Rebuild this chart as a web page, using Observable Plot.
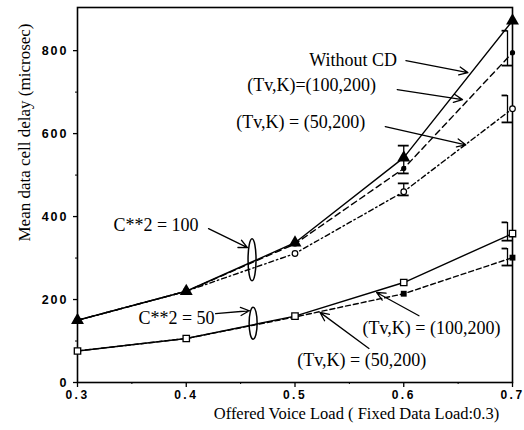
<!DOCTYPE html>
<html>
<head>
<meta charset="utf-8">
<script src="https://cdn.jsdelivr.net/npm/d3@7"></script>
<script src="https://cdn.jsdelivr.net/npm/@observablehq/plot@0.6"></script>
<style>
  html, body { margin: 0; padding: 0; background: #fff; }
  #chart svg { display: block; background: #fff; }
  #chart g[aria-label="y-axis tick label"] text { letter-spacing: 2px; }
  #chart g[aria-label="x-axis tick label"] text { letter-spacing: 2.5px; }
</style>
</head>
<body>
<div id="chart"></div>
<script>
// ---- data ----
const loads = [0.3, 0.4, 0.5, 0.6, 0.7];
// C**2 = 100 group
const c100NoCD  = [150, 220, 337, 542, 872];
const c100Tv100 = [150, 220, 334, 516, 795];
const c100Tv50  = [150, 220, 311, 460, 660];
// C**2 = 50 group
const c50Tv100  = [76, 106, 160, 241, 359];
const c50Tv50   = [76, 106, 158, 214, 301];

// confidence intervals
const errX  = [0.6, 0.6, 0.7, 0.7, 0.7, 0.7];
const errLo = [504, 451, 764, 627, 342, 282];
const errHi = [571, 480, 848, 692, 386, 323];

// ticks
const xTicks = [0.3, 0.4, 0.5, 0.6, 0.7];
const xMinor = [0.35, 0.45, 0.55, 0.65];
const yTicks = [0, 200, 400, 600, 800];
const yMinor = [100, 300, 500, 700];

// annotations
const noteText = ["Without CD", "(Tv,K)=(100,200)", "(Tv,K) = (50,200)", "C**2 = 100", "C**2 = 50", "(Tv,K) = (100,200)", "(Tv,K) = (50,200)"];
const noteX = [0.513, 0.456, 0.446, 0.333, 0.356, 0.562, 0.502];
const noteY = [776, 716, 627, 378, 154, 130, 53];

const arrowX1 = [0.602, 0.594, 0.583, 0.4205, 0.427, 0.614, 0.568];
const arrowY1 = [776, 706, 617, 371, 166, 161, 82];
const arrowX2 = [0.659, 0.654, 0.657, 0.4563, 0.458, 0.575, 0.523];
const arrowY2 = [747, 682, 573, 325, 173, 217, 169];

const ellX = [0.4605, 0.4615];
const ellY = [296, 143];
const ellR = [21, 16];

const xLabel = "Offered Voice Load ( Fixed Data Load:0.3)";
const yLabel = "Mean data cell delay (microsec)";

// ---- build tables ----
const series = (vals) => loads.map((x, i) => ({x, y: vals[i]}));
const errs = errX.map((x, i) => ({x, lo: errLo[i], hi: errHi[i]}));
const errsIn = errs.filter(d => d.x < 0.7);
const errsEdge = errs.filter(d => d.x >= 0.7);
const notes = noteText.map((t, i) => ({t, x: noteX[i], y: noteY[i]}));
const arrows = arrowX1.map((x1, i) => ({x1, y1: arrowY1[i], x2: arrowX2[i], y2: arrowY2[i]}));
const ells = ellX.map((x, i) => ({x, y: ellY[i], r: ellR[i]}));

const ellipse = {
  draw(ctx, size) {
    const ry = Math.sqrt(size / Math.PI), rx = 4, k = 0.5523;
    ctx.moveTo(rx, 0);
    ctx.bezierCurveTo(rx, ry * k, rx * k, ry, 0, ry);
    ctx.bezierCurveTo(-rx * k, ry, -rx, ry * k, -rx, 0);
    ctx.bezierCurveTo(-rx, -ry * k, -rx * k, -ry, 0, -ry);
    ctx.bezierCurveTo(rx * k, -ry, rx, -ry * k, rx, 0);
    ctx.closePath();
  }
};

const capW = 0.005;
const serif = "'Liberation Serif', 'DejaVu Serif', serif";
const sans = "'Liberation Sans', Arial, sans-serif";
const lw = 1.4;

const chart = Plot.plot({
  width: 524,
  height: 430,
  marginLeft: 77,
  marginRight: 12,
  marginTop: 7,
  marginBottom: 48,
  style: {fontFamily: sans, fontSize: "12px", color: "#000", background: "#fff"},
  x: {domain: [0.3, 0.7]},
  y: {domain: [0, 904]},
  r: {type: "identity"},
  marks: [
    Plot.axisX(xTicks, {tickSize: 5, tickPadding: 3, tickFormat: d3.format(".1f"), label: null, fontWeight: "bold", fontSize: 12, strokeWidth: 1.3}),
    Plot.axisX(xMinor, {tickSize: 2, tickFormat: () => "", label: null}),
    Plot.axisY(yTicks, {tickSize: 4, tickPadding: 5, label: null, fontWeight: "bold", fontSize: 12.5, strokeWidth: 1.3}),
    Plot.axisY(yMinor, {tickSize: 2, tickFormat: () => "", label: null}),
    Plot.frame({stroke: "#000", strokeWidth: 1.6}),

    // lines
    Plot.line(series(c100Tv50), {x: "x", y: "y", stroke: "#000", strokeWidth: lw, strokeDasharray: "5,3,1.5,3"}),
    Plot.line(series(c100Tv100), {x: "x", y: "y", stroke: "#000", strokeWidth: lw, strokeDasharray: "6,4"}),
    Plot.line(series(c100NoCD), {x: "x", y: "y", stroke: "#000", strokeWidth: lw}),
    Plot.line(series(c50Tv50), {x: "x", y: "y", stroke: "#000", strokeWidth: lw, strokeDasharray: "5,3"}),
    Plot.line(series(c50Tv100), {x: "x", y: "y", stroke: "#000", strokeWidth: lw}),

    // error bars
    Plot.ruleX(errsIn, {x: "x", y1: "lo", y2: "hi", stroke: "#000", strokeWidth: 1.3}),
    Plot.ruleY(errsIn, {y: "lo", x1: d => d.x - capW, x2: d => d.x + capW, stroke: "#000", strokeWidth: 1.8}),
    Plot.ruleY(errsIn, {y: "hi", x1: d => d.x - capW, x2: d => d.x + capW, stroke: "#000", strokeWidth: 1.8}),
    Plot.ruleX(errsEdge, {x: "x", y1: "lo", y2: "hi", dx: -5, stroke: "#000", strokeWidth: 1.3}),
    Plot.ruleY(errsEdge, {y: "lo", x1: d => d.x - capW, x2: d => d.x + capW, dx: -5, stroke: "#000", strokeWidth: 1.8}),
    Plot.ruleY(errsEdge, {y: "hi", x1: d => d.x - capW, x2: "x", dx: -5, stroke: "#000", strokeWidth: 1.8}),

    // markers
    Plot.dot(series(c100Tv50), {x: "x", y: "y", symbol: "circle", r: 2.8, fill: "#fff", stroke: "#000", strokeWidth: 1.2}),
    Plot.dot(series(c100Tv100), {x: "x", y: "y", symbol: "circle", r: 2.6, fill: "#000"}),
    Plot.dot(series(c100NoCD), {x: "x", y: "y", symbol: "triangle", r: 4.8, fill: "#000"}),
    Plot.dot(series(c50Tv50), {x: "x", y: "y", symbol: "square", r: 3.3, fill: "#000"}),
    Plot.dot(series(c50Tv100), {x: "x", y: "y", symbol: "square", r: 3.6, fill: "#fff", stroke: "#000", strokeWidth: 1.3}),

    // annotations
    Plot.dot(ells, {x: "x", y: "y", r: "r", symbol: ellipse, fill: "none", stroke: "#000", strokeWidth: 1.5}),
    Plot.arrow(arrows, {x1: "x1", y1: "y1", x2: "x2", y2: "y2", stroke: "#000", strokeWidth: 1.3, headLength: 11, headAngle: 50}),
    Plot.text(notes, {x: "x", y: "y", text: "t", textAnchor: "start", fontSize: 18, fontFamily: serif, fill: "#000"}),

    // axis titles
    Plot.text([xLabel], {frameAnchor: "bottom-left", dx: 279, dy: 36, text: d => d, textAnchor: "middle", fontSize: 16.5, fontFamily: serif, fill: "#000"}),
    Plot.text([yLabel], {frameAnchor: "top-left", dx: -60, dy: 125, rotate: -90, text: d => d, textAnchor: "middle", fontSize: 17, fontFamily: serif, fill: "#000"})
  ]
});
document.getElementById("chart").append(chart);
</script>
</body>
</html>
